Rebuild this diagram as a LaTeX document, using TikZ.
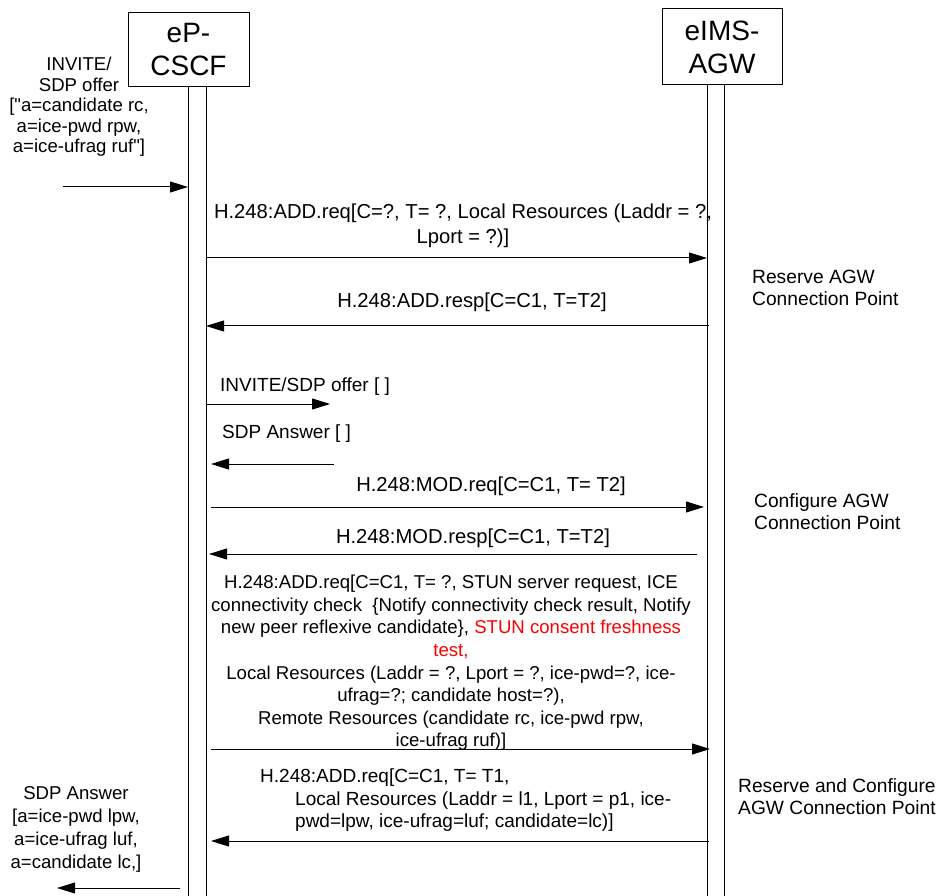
\documentclass[tikz,border=0pt]{standalone}
\usepackage{fontspec}
\setmainfont{Liberation Sans}[Ligatures=TeXOff]
\usetikzlibrary{arrows.meta}
\begin{document}
\begin{tikzpicture}[x=1pt,y=-1pt,
  every node/.style={font=\fontsize{19}{22.5}\selectfont, inner sep=0pt},
  msg/.style={line width=1pt, -{Triangle[length=18pt,width=11pt]}},
  life/.style={line width=1pt},
  ent/.style={draw, line width=1pt, minimum width=121pt, minimum height=74pt, align=center, font=\fontsize{28}{33}\selectfont},
  lbl/.style={align=center},
  big/.style={font=\fontsize{20.2}{25}\selectfont},
  side/.style={align=left, anchor=west, font=\fontsize{19.2}{22}\selectfont},
  lbll/.style={align=left, anchor=west}]
\useasboundingbox (0,0) rectangle (938,896);
% entities
\node[ent] (pcscf) at (188.5,49.5) {eP-\\CSCF};
\node[ent, minimum width=120pt, minimum height=76pt] (agw) at (722,47) {eIMS-\\AGW};
% lifelines
\coordinate (p1top) at (188,86); \coordinate (p1bot) at (188,896);
\coordinate (p2top) at (206,86); \coordinate (p2bot) at (206,896);
\coordinate (g1top) at (707,85); \coordinate (g1bot) at (707,896);
\coordinate (g2top) at (724,85); \coordinate (g2bot) at (724,896);
\draw[life] (p1top) -- (p1bot);
\draw[life] (p2top) -- (p2bot);
\draw[life] (g1top) -- (g1bot);
\draw[life] (g2top) -- (g2bot);
% message end points
\coordinate (m1s) at (63,187);   \coordinate (m1e) at (188,187);
\coordinate (m2s) at (206,258);  \coordinate (m2e) at (707,258);
\coordinate (m3s) at (709,326);  \coordinate (m3e) at (206,326);
\coordinate (m4s) at (206,404);  \coordinate (m4e) at (330,404);
\coordinate (m5s) at (334,464);  \coordinate (m5e) at (211,464);
\coordinate (m6s) at (211,507);  \coordinate (m6e) at (704,507);
\coordinate (m7s) at (697,554);  \coordinate (m7e) at (209,554);
\coordinate (m8s) at (211,749);  \coordinate (m8e) at (710,749);
\coordinate (m9s) at (709,841);  \coordinate (m9e) at (211,841);
\coordinate (m10s) at (180,888); \coordinate (m10e) at (57,888);
\foreach \m in {m1,m2,m3,m4,m5,m6,m7,m8,m9,m10}
  \draw[msg] (\m s) -- (\m e);
% labels
\node[lbl, font=\fontsize{18.6}{20.5}\selectfont] (t1) at (79,107)
  {INVITE/\\SDP offer\\{}["a=candidate rc,\\a=ice-pwd rpw,\\a=ice-ufrag ruf"]};
\node[lbl, big] (t2) at (463,225.5)
  {H.248:ADD.req[C=?, T= ?, Local Resources (Laddr = ?,\\Lport = ?)]};
\node[lbl, big] (t3) at (472,302) {H.248:ADD.resp[C=C1, T=T2]};
\node[side] (r1) at (752,288) {Reserve AGW\\Connection Point};
\node[lbll] (t4) at (220,387) {INVITE/SDP offer [ ]};
\node[lbll] (t5) at (222,434) {SDP Answer [ ]};
\node[lbl, big] (t6) at (491,486) {H.248:MOD.req[C=C1, T= T2]};
\node[lbl, big] (t7) at (473,538) {H.248:MOD.resp[C=C1, T=T2]};
\node[side] (r2) at (754,512) {Configure AGW\\Connection Point};
\node[lbl, font=\fontsize{18.6}{22.6}\selectfont] (t8) at (451,663)
  {H.248:ADD.req[C=C1, T= ?, STUN server request, ICE\\
   connectivity check\ \ \{Notify connectivity check result, Notify\\
   new peer reflexive candidate\}, \textcolor{red}{STUN consent freshness}\\
   \textcolor{red}{test,}\\
   Local Resources (Laddr = ?, Lport = ?, ice-pwd=?, ice-\\
   ufrag=?; candidate host=?),\\
   Remote Resources (candidate rc, ice-pwd rpw,\\
   ice-ufrag ruf)]};
\node[lbll, font=\fontsize{19}{22.5}\selectfont] (t9) at (260,800.5)
  {H.248:ADD.req[C=C1, T= T1,\\
   \hspace*{35pt}Local Resources (Laddr = l1, Lport = p1, ice-\\
   \hspace*{35pt}pwd=lpw, ice-ufrag=luf; candidate=lc)]};
\node[side] (r3) at (738,797) {Reserve and Configure\\AGW Connection Point};
\node[lbl, font=\fontsize{18.6}{23}\selectfont] (t10) at (76,829.5)
  {SDP Answer\\{}[a=ice-pwd lpw,\\a=ice-ufrag luf,\\a=candidate lc,]};
\end{tikzpicture}
\end{document}
